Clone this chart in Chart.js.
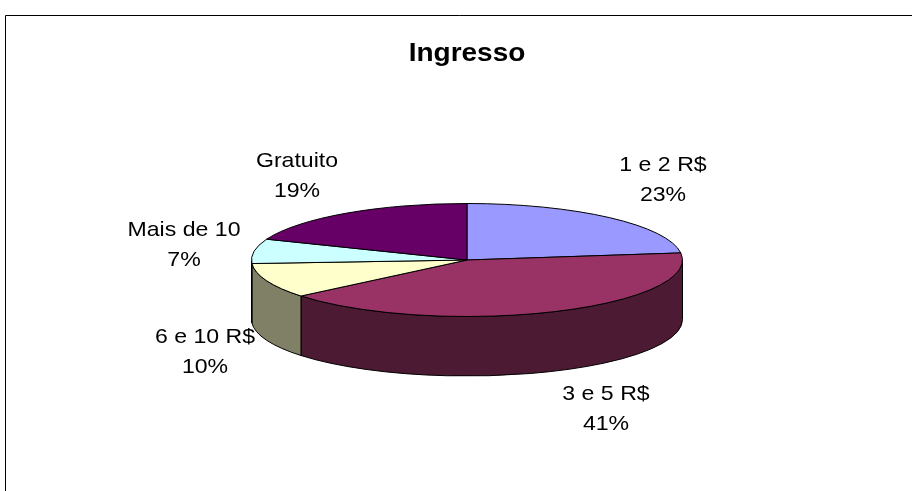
<!DOCTYPE html>
<html>
<head>
<meta charset="utf-8">
<script src="https://cdn.jsdelivr.net/npm/chart.js@4/dist/chart.umd.min.js"></script>
<style>
  html, body { margin: 0; padding: 0; background: #ffffff; }
  #wrap { width: 912px; height: 491px; position: relative; }
</style>
</head>
<body>
<div id="wrap"><canvas id="c" width="912" height="491"></canvas></div>
<script>
// ---- data ----
const chartTitle = 'Ingresso';
const categories = ['1 e 2 R$', '3 e 5 R$', '6 e 10 R$', 'Mais de 10', 'Gratuito'];
const percents = [23, 41, 10, 7, 19];
const topColors = ['#9999FF', '#993366', '#FFFFCC', '#CCFFFF', '#660066'];
const sideColors = ['#4D4D80', '#4D1A33', '#808066', '#668080', '#330033'];
// label anchor positions (centre of the two-line label) — layout only
const labelPos = [[663, 178], [606, 407], [205, 350], [184, 243], [297, 174]];

const TILT = 56.5 / 215.5;   // vertical squash of the pie
const DEPTH = 59.5 / 215.5;  // thickness relative to radius

const pie3d = {
  id: 'pie3d',
  beforeDraw(chart) {
    const ctx = chart.ctx;
    ctx.save();
    ctx.fillStyle = '#ffffff';
    ctx.fillRect(0, 0, chart.width, chart.height);
    ctx.strokeStyle = '#000000';
    ctx.lineWidth = 1;
    ctx.beginPath();
    ctx.moveTo(5.5, chart.height + 2);
    ctx.lineTo(5.5, 15.5);
    ctx.lineTo(chart.width + 2, 15.5);
    ctx.stroke();
    ctx.restore();
  },
  beforeDatasetsDraw(chart) {
    const ctx = chart.ctx;
    const arcs = chart.getDatasetMeta(0).data;
    if (!arcs.length) return false;
    const cx = arcs[0].x, cy = arcs[0].y + 0.5;
    const rx = arcs[0].outerRadius;
    const ry = rx * TILT;
    const d = rx * DEPTH;
    ctx.save();
    ctx.lineWidth = 1;
    ctx.strokeStyle = '#000000';
    ctx.lineJoin = 'round';
    const norm = v => { while (v < 0) v += Math.PI * 2; while (v >= Math.PI * 2) v -= Math.PI * 2; return v; };
    arcs.forEach((a, i) => {
      const s = a.startAngle, e = a.endAngle;
      const ns = norm(s), ne = ns + (e - s);
      const segs = [];
      [[0, Math.PI], [Math.PI * 2, Math.PI * 3]].forEach(([lo, hi]) => {
        const a0 = Math.max(ns, lo), a1 = Math.min(ne, hi);
        if (a1 > a0) segs.push([a0, a1]);
      });
      segs.forEach(([a0, a1]) => {
        ctx.beginPath();
        ctx.ellipse(cx, cy, rx, ry, 0, a0, a1, false);
        ctx.lineTo(cx + rx * Math.cos(a1), cy + d + ry * Math.sin(a1));
        ctx.ellipse(cx, cy + d, rx, ry, 0, a1, a0, true);
        ctx.closePath();
        ctx.fillStyle = sideColors[i];
        ctx.fill();
        ctx.stroke();
      });
    });
    arcs.forEach((a, i) => {
      ctx.beginPath();
      ctx.moveTo(cx, cy);
      ctx.ellipse(cx, cy, rx, ry, 0, a.startAngle, a.endAngle, false);
      ctx.closePath();
      ctx.fillStyle = topColors[i];
      ctx.fill();
      ctx.stroke();
    });
    ctx.restore();
    return false;
  },
  afterDraw(chart) {
    const ctx = chart.ctx;
    ctx.save();
    ctx.fillStyle = '#000000';
    ctx.textAlign = 'center';
    ctx.textBaseline = 'alphabetic';
    ctx.save();
    ctx.translate(467, 61);
    ctx.scale(1.12, 1);
    ctx.font = 'bold 25px "Liberation Sans", Arial, sans-serif';
    ctx.fillText(chartTitle, 0, 0);
    ctx.restore();
    const vals = chart.data.datasets[0].data;
    chart.data.labels.forEach((lab, i) => {
      const [x, y] = labelPos[i];
      ctx.save();
      ctx.translate(x, y);
      ctx.scale(1.1, 1);
      ctx.font = '21px "Liberation Sans", Arial, sans-serif';
      ctx.fillText(lab, 0, -7);
      ctx.fillText(vals[i] + '%', 0, 23);
      ctx.restore();
    });
    ctx.restore();
  }
};

new Chart(document.getElementById('c'), {
  type: 'pie',
  data: {
    labels: categories,
    datasets: [{ data: percents, backgroundColor: topColors, borderWidth: 0 }]
  },
  options: {
    responsive: false,
    animation: false,
    layout: { padding: { left: 251.5, right: 229.5, top: 44, bottom: 16 } },
    plugins: { legend: { display: false }, tooltip: { enabled: false }, title: { display: false } }
  },
  plugins: [pie3d]
});
</script>
</body>
</html>
